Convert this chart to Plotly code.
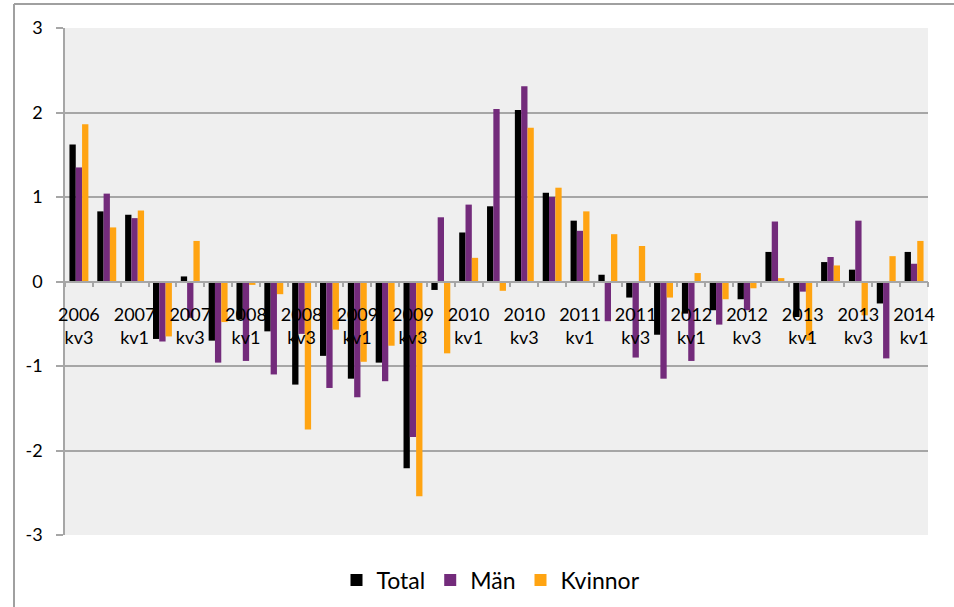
import plotly.graph_objects as go

categories = ["2006 kv3", "2006 kv4",
              "2007 kv1", "2007 kv2", "2007 kv3", "2007 kv4",
              "2008 kv1", "2008 kv2", "2008 kv3", "2008 kv4",
              "2009 kv1", "2009 kv2", "2009 kv3", "2009 kv4",
              "2010 kv1", "2010 kv2", "2010 kv3", "2010 kv4",
              "2011 kv1", "2011 kv2", "2011 kv3", "2011 kv4",
              "2012 kv1", "2012 kv2", "2012 kv3", "2012 kv4",
              "2013 kv1", "2013 kv2", "2013 kv3", "2013 kv4",
              "2014 kv1"]

total = [1.62, 0.83, 0.79, -0.68, 0.06, -0.70, -0.45, -0.59, -1.22, -0.88,
         -1.15, -0.96, -2.21, -0.10, 0.58, 0.89, 2.03, 1.05, 0.72, 0.08,
         -0.19, -0.63, -0.38, -0.34, -0.21, 0.35, -0.42, 0.23, 0.14, -0.26,
         0.35]
man = [1.35, 1.04, 0.75, -0.71, -0.43, -0.96, -0.94, -1.10, -0.62, -1.26,
       -1.37, -1.18, -1.84, 0.76, 0.91, 2.04, 2.31, 1.00, 0.60, -0.47,
       -0.90, -1.15, -0.94, -0.51, -0.34, 0.71, -0.12, 0.29, 0.72, -0.91,
       0.21]
kvinnor = [1.86, 0.64, 0.84, -0.65, 0.48, -0.48, -0.04, -0.15, -1.75, -0.57,
           -0.95, -0.76, -2.54, -0.85, 0.28, -0.11, 1.82, 1.11, 0.83, 0.56,
           0.42, -0.19, 0.10, -0.21, -0.08, 0.04, -0.70, 0.19, -0.40, 0.30,
           0.48]

series_names = ["Total", "Män", "Kvinnor"]
colors = ["#000000", "#732B7B", "#FFA412"]

y_tickvals = [-3, -2, -1, 0, 1, 2, 3]
y_ticktext = ["-3", "-2", "-1", "0", "1", "2", "3"]

ticktext = [c.replace(" ", "<br>") if i % 2 == 0 else "" for i, c in enumerate(categories)]

fig = go.Figure()
for name, vals, col in zip(series_names, [total, man, kvinnor], colors):
    fig.add_trace(go.Bar(x=categories, y=vals, name=name,
                         marker=dict(color=col, line=dict(width=0))))

W, H = 954, 607
ml, mr, mt, mb = 65, 26, 28, 72
pw, ph = W - ml - mr, H - mt - mb

def px_to_paper_x(px):
    return (px - ml) / pw

def px_to_paper_y(py):
    return (H - mb - py) / ph

grid_col = "#A6A6A6"
font_family = "Lato, 'Open Sans', sans-serif"

fig.update_layout(
    width=W, height=H,
    margin=dict(l=ml, r=mr, t=mt, b=mb, pad=0, autoexpand=False),
    paper_bgcolor="white",
    plot_bgcolor="#EFEFEF",
    barmode="group",
    bargap=0.32,
    bargroupgap=0,
    font=dict(family=font_family, size=18, color="black"),
    showlegend=True,
    legend=dict(orientation="h", x=px_to_paper_x(491), xanchor="center",
                y=px_to_paper_y(580), yanchor="middle",
                font=dict(size=23, family=font_family),
                itemwidth=30, traceorder="normal"),
    xaxis=dict(
        type="category",
        categoryorder="array", categoryarray=categories,
        tickmode="array", tickvals=categories, ticktext=ticktext,
        tickson="boundaries",
        ticks="outside", ticklen=5, tickcolor=grid_col, tickwidth=1.5,
        showline=True, linecolor=grid_col, linewidth=1.5,
        showgrid=False, zeroline=False,
        anchor="free", position=0.5,
        ticklabelstandoff=17,
        tickangle=0,
        tickfont=dict(size=18, family=font_family),
        range=[-0.5, len(categories) - 0.5],
    ),
    yaxis=dict(
        range=[-3, 3],
        tickmode="array", tickvals=y_tickvals, ticktext=y_ticktext,
        showgrid=True, gridcolor=grid_col, gridwidth=1.5,
        zeroline=True, zerolinecolor=grid_col, zerolinewidth=1.5,
        showline=True, linecolor=grid_col, linewidth=1.5,
        ticks="outside", ticklen=7, tickcolor=grid_col, tickwidth=1.5,
        ticklabelstandoff=10,
        tickfont=dict(size=18, family=font_family),
    ),
    shapes=[
        dict(type="line", xref="paper", yref="paper",
             x0=px_to_paper_x(14), x1=px_to_paper_x(14),
             y0=px_to_paper_y(4), y1=px_to_paper_y(640),
             line=dict(color="#A0A0A0", width=2)),
        dict(type="line", xref="paper", yref="paper",
             x0=px_to_paper_x(14), x1=px_to_paper_x(1000),
             y0=px_to_paper_y(4), y1=px_to_paper_y(4),
             line=dict(color="#A0A0A0", width=2)),
    ],
)

fig.write_html("out.html",
               config={"displayModeBar": False},
               post_script="document.body.style.margin='0';document.body.style.overflow='hidden';")
